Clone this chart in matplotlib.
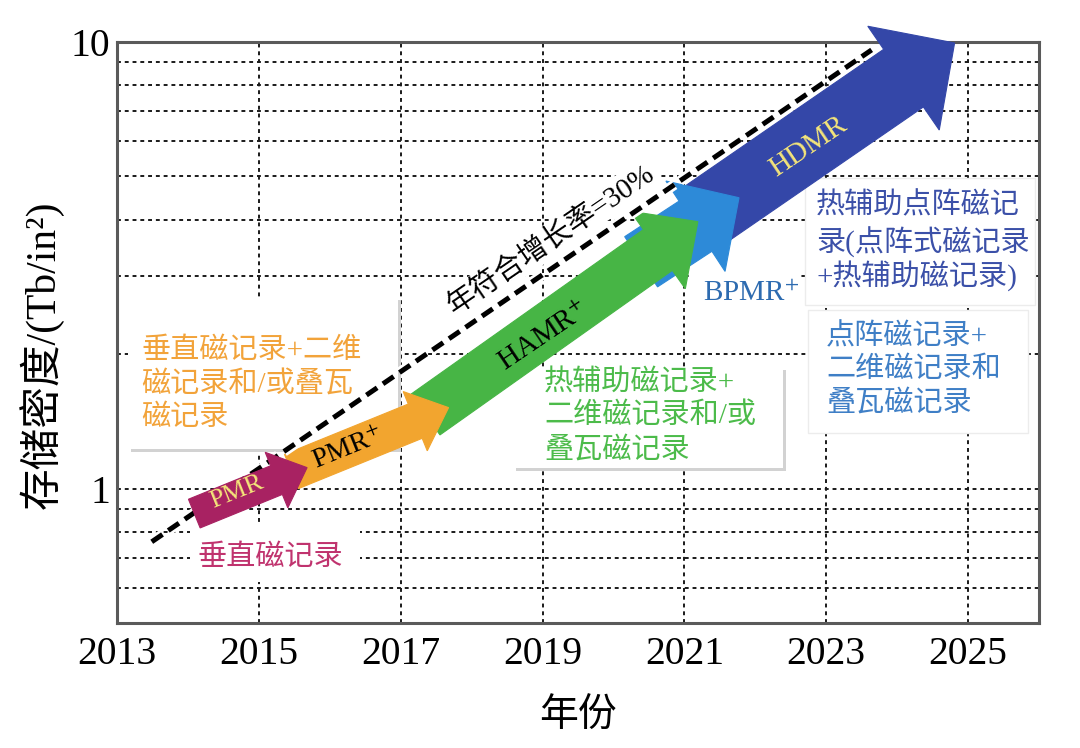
import matplotlib
matplotlib.use('Agg')
import numpy as np
import matplotlib.pyplot as plt
import matplotlib.patheffects as pe
from matplotlib.patches import Polygon, Rectangle
from matplotlib.ticker import FixedLocator, NullFormatter, FixedFormatter

plt.rcParams['font.family'] = ['Liberation Serif', 'Noto Sans CJK SC', 'DejaVu Sans']
plt.rcParams['mathtext.fontset'] = 'stix'

# ---------------- data ----------------
x_ticks = [2013, 2015, 2017, 2019, 2021, 2023, 2025]
x_tick_labels = ['2013', '2015', '2017', '2019', '2021', '2023', '2025']
x_limits = [2013, 2026]
y_limits = [0.5, 10]
y_major = [1, 10]
y_major_labels = ['1', '10']
y_minor = [0.6, 0.7, 0.8, 0.9, 2, 3, 4, 5, 6, 7, 8, 9]

# 30% CAGR trend line
trend_year = [2013.49, 2023.64]
trend_density = [0.76, 9.6]

# technology arrows (tail -> tip), drawn back to front
arrow_names = ['HDMR', 'BPMR+', 'HAMR+', 'PMR+', 'PMR']
arrow_start_year = [2021.23, 2020.39, 2017.35, 2015.46, 2014.09]
arrow_start_density = [4.04, 3.22, 1.465, 1.092, 0.879]
arrow_end_year = [2024.81, 2021.77, 2021.19, 2017.675, 2015.68]
arrow_end_density = [9.95, 4.48, 3.96, 1.518, 1.114]
arrow_colors = ['#3447A8', '#2D8AD8', '#47B545', '#F2A52F', '#A82262']
arrow_body_px = [70, 60, 50, 37, 31]
arrow_head_px = [126, 108, 95, 64, 60]
arrow_headlen_px = [62, 52, 49, 36, 33]
arrow_z = [4, 5, 6, 7, 10.5]

xlabel = '年份'
ylabel = '存储密度/(Tb/in²)'
trend_label = '年符合增长率=30%'

orange_lines = ['垂直磁记录+二维', '磁记录和/或叠瓦', '磁记录']
pmr_lines = ['垂直磁记录']
green_lines = ['热辅助磁记录+', '二维磁记录和/或', '叠瓦磁记录']
darkblue_lines = ['热辅助点阵磁记', '录(点阵式磁记录', '+热辅助磁记录)']
lightblue_lines = ['点阵磁记录+', '二维磁记录和', '叠瓦磁记录']

FAM = ['Liberation Serif', 'Noto Sans CJK SC', 'DejaVu Sans']

# ---------------- figure ----------------
W, H = 1080, 748
fig = plt.figure(figsize=(W / 100, H / 100), dpi=100)
fig.patch.set_facecolor('white')
L, R, T, B = 117, 1039, 42, 623
ax = fig.add_axes([L / W, 1 - B / H, (R - L) / W, (B - T) / H])
ax.set_yscale('log')
ax.set_xlim(*x_limits)
ax.set_ylim(*y_limits)

ax.xaxis.set_major_locator(FixedLocator(x_ticks))
ax.xaxis.set_major_formatter(FixedFormatter(x_tick_labels))
ax.yaxis.set_major_locator(FixedLocator(y_major))
ax.yaxis.set_major_formatter(FixedFormatter(y_major_labels))
ax.yaxis.set_minor_locator(FixedLocator(y_minor))
ax.yaxis.set_minor_formatter(NullFormatter())
ax.tick_params(axis='both', which='both', length=0)
ax.tick_params(axis='x', labelsize=28.5, pad=9)
ax.tick_params(axis='y', labelsize=28.5, pad=5)

grid_kw = dict(color='#1a1a1a', linewidth=1.4, linestyle=(0, (2, 2)))
ax.grid(True, axis='x', which='major', **grid_kw)
ax.grid(True, axis='y', which='both', **grid_kw)
ax.set_axisbelow(True)
for s in ax.spines.values():
    s.set_color('#5a5a5a')
    s.set_linewidth(2.2)

ax.set_xlabel(xlabel, fontsize=28, labelpad=18, family=FAM)
ax.set_ylabel(ylabel, fontsize=30, family=FAM)
ax.yaxis.set_label_coords((64 - L) / (R - L), (B - 355) / (B - T))


def fpt(px, py):
    return px / W, 1 - py / H


def add_box(x0, y0, x1, y1, shadow=True, edge='none'):
    if shadow:
        sx, sy = fpt(x0 + 3, y1 + 3)
        ex, ey = fpt(x1 + 3, y0 + 3)
        ax.add_patch(Rectangle((sx, sy), ex - sx, ey - sy, transform=fig.transFigure,
                               facecolor='#d2d2d2', edgecolor='none', zorder=1.9, clip_on=False))
    ax0, ay0 = fpt(x0, y1)
    ax1, ay1 = fpt(x1, y0)
    ax.add_patch(Rectangle((ax0, ay0), ax1 - ax0, ay1 - ay0, transform=fig.transFigure,
                           facecolor='white', edgecolor=edge, linewidth=1.0,
                           zorder=2, clip_on=False))


def add_lines(lines, x, y_centers, color, size):
    for s, yc in zip(lines, y_centers):
        fx, fy = fpt(x, yc)
        ax.text(fx, fy, s, transform=fig.transFigure, ha='left', va='center',
                color=color, fontsize=size, zorder=12, family=FAM)


# white annotation boxes
add_box(128, 297, 398, 449, shadow=True)
add_box(190, 522, 360, 582, shadow=False)
add_box(513, 367, 783, 468, shadow=True)
add_box(805, 178, 1035, 305, shadow=False, edge='#ececec')
add_box(808, 310, 1028, 433, shadow=False, edge='#ececec')
add_box(692, 267, 800, 318, shadow=False)

# arrows
inv = ax.transData.inverted()
for i in range(len(arrow_names)):
    p0 = ax.transData.transform((arrow_start_year[i], arrow_start_density[i]))
    p1 = ax.transData.transform((arrow_end_year[i], arrow_end_density[i]))
    d = p1 - p0
    length = np.hypot(*d)
    u = d / length
    n = np.array([-u[1], u[0]])
    w = arrow_body_px[i] / 2
    hw = arrow_head_px[i] / 2
    base = p1 - u * arrow_headlen_px[i]
    verts = np.array([p0 + n * w, base + n * w, base + n * hw, p1,
                      base - n * hw, base - n * w, p0 - n * w])
    verts = inv.transform(verts)
    ax.add_patch(Polygon(verts, closed=True, facecolor=arrow_colors[i],
                         edgecolor=arrow_colors[i], linewidth=0.8,
                         zorder=arrow_z[i], clip_on=False))

# trend line
ax.plot(trend_year, trend_density, color='black', lw=3.6, dashes=(2.6, 1.4),
        dash_capstyle='butt', zorder=10, clip_on=False,
        path_effects=[pe.Stroke(linewidth=7.5, foreground='white'), pe.Normal()])

ax.text(2019.12, 3.61, trend_label, rotation=34.4, rotation_mode='anchor',
        ha='center', va='center', fontsize=21, color='black', zorder=11, family=FAM,
        bbox=dict(facecolor='white', edgecolor='none', pad=2))

# arrow labels
ax.text(2014.69, 0.985, 'PMR', rotation=22, rotation_mode='anchor', ha='center',
        va='center', fontsize=19, color='#F4E57A', zorder=12)
ax.text(2016.26, 1.222, 'PMR$^{+}$', rotation=22, rotation_mode='anchor', ha='center',
        va='center', fontsize=20, color='black', zorder=12)
ax.text(2019.02, 2.19, 'HAMR$^{+}$', rotation=34, rotation_mode='anchor', ha='center',
        va='center', fontsize=21, color='black', zorder=12)
ax.text(2022.75, 5.82, 'HDMR', rotation=34, rotation_mode='anchor', ha='center',
        va='center', fontsize=21, color='#F4E57A', zorder=12)
ax.text(2021.94, 2.72, 'BPMR$^{+}$', ha='center', va='center', fontsize=21,
        color='#2D6BB0', zorder=12)

# annotation texts
add_lines(orange_lines, 141, [351, 385, 418], '#F2A33A', 21)
add_lines(pmr_lines, 197, [558], '#C0336E', 21)
add_lines(green_lines, 544, [382, 416, 450], '#4CBB4A', 21)
add_lines(darkblue_lines, 816, [206, 242, 276], '#3B50A8', 21)
add_lines(lightblue_lines, 826, [337, 370, 403], '#3F7FC6', 21)

fig.savefig('out.png', dpi=100, facecolor='white')
